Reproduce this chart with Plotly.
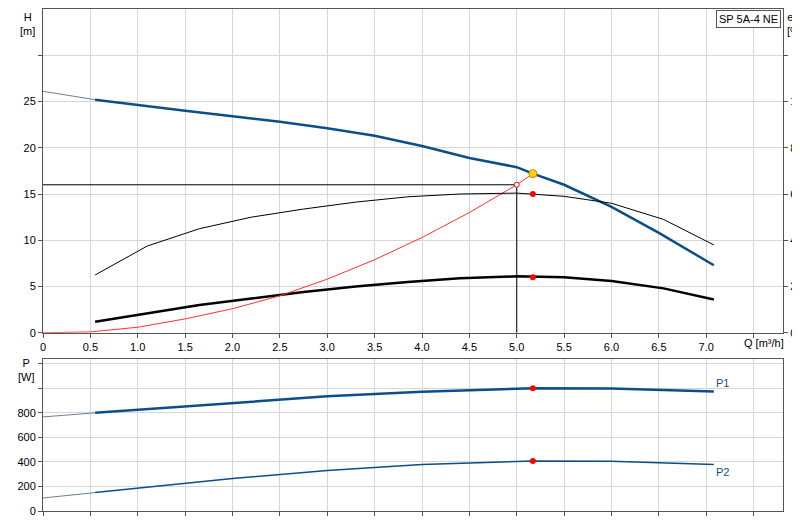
import plotly.graph_objects as go
from plotly.subplots import make_subplots

# pump curve data
q_ext = [0, 0.55]
h_ext = [26.1, 25.2]
q = [0.55, 1.0, 1.5, 2.0, 2.5, 3.0, 3.5, 4.0, 4.5, 5.0, 5.17, 5.5, 6.0, 6.5, 7.08]
h = [25.2, 24.6, 24.0, 23.4, 22.8, 22.1, 21.3, 20.2, 18.9, 17.9, 17.2, 16.0, 13.6, 10.8, 7.3]

q_eta = [0.55, 1.1, 1.65, 2.2, 2.75, 3.3, 3.85, 4.4, 5.0, 5.5, 6.0, 6.55, 7.08]
eta = [25, 37.5, 45, 50, 53.5, 56.5, 58.8, 60, 60.4, 59, 56, 49, 38]
npsh = [1.2, 2.1, 3.0, 3.7, 4.4, 5.0, 5.5, 5.9, 6.1, 6.0, 5.6, 4.8, 3.6]

q_sys = [0, 0.5, 1.0, 1.5, 2.0, 2.5, 3.0, 3.5, 4.0, 4.5, 5.0, 5.17]
h_sys = [0, 0.1, 0.6, 1.5, 2.6, 4.0, 5.8, 7.9, 10.3, 13.0, 16.0, 17.2]

q_p = [0.55, 1.0, 2.0, 3.0, 4.0, 5.17, 6.0, 7.08]
p1 = [800, 825, 885, 935, 972, 1000, 998, 975]
p2 = [150, 185, 265, 330, 380, 408, 405, 380]
p1_ext = [767, 800]
p2_ext = [106, 150]

duty_q, duty_h, duty_eta, duty_npsh = 5.17, 17.2, 60, 6.0
req_q, req_h = 5.0, 16.0

blue = "#0b4f8a"
grid = "#d6d6d6"

fig = make_subplots(rows=2, cols=1, specs=[[{"secondary_y": True}], [{}]])

fig.add_trace(go.Scatter(x=q_ext, y=h_ext, mode="lines", line=dict(color="#6a7f9a", width=1)), row=1, col=1)
fig.add_trace(go.Scatter(x=q, y=h, mode="lines", line=dict(color=blue, width=2.5)), row=1, col=1)
fig.add_trace(go.Scatter(x=q_eta, y=eta, mode="lines", line=dict(color="black", width=1)),
              row=1, col=1, secondary_y=True)
fig.add_trace(go.Scatter(x=q_eta, y=npsh, mode="lines", line=dict(color="black", width=2.5)), row=1, col=1)
fig.add_trace(go.Scatter(x=q_sys, y=h_sys, mode="lines", line=dict(color="#ff3030", width=1)), row=1, col=1)
fig.add_trace(go.Scatter(x=[0, req_q, req_q], y=[req_h, req_h, 0], mode="lines",
                         line=dict(color="black", width=1)), row=1, col=1)
fig.add_trace(go.Scatter(x=[req_q], y=[req_h], mode="markers",
                         marker=dict(color="white", size=5, line=dict(color="red", width=1))), row=1, col=1)
fig.add_trace(go.Scatter(x=[duty_q], y=[duty_h], mode="markers",
                         marker=dict(color="#ffd700", size=8, line=dict(color="#d08000", width=1))), row=1, col=1)
fig.add_trace(go.Scatter(x=[duty_q], y=[duty_eta], mode="markers", marker=dict(color="red", size=6)),
              row=1, col=1, secondary_y=True)
fig.add_trace(go.Scatter(x=[duty_q], y=[duty_npsh], mode="markers", marker=dict(color="red", size=6)), row=1, col=1)

fig.add_trace(go.Scatter(x=q_ext, y=p1_ext, mode="lines", line=dict(color="#6a7f9a", width=1)), row=2, col=1)
fig.add_trace(go.Scatter(x=q_ext, y=p2_ext, mode="lines", line=dict(color="#6a7f9a", width=1)), row=2, col=1)
fig.add_trace(go.Scatter(x=q_p, y=p1, mode="lines", line=dict(color=blue, width=2.5)), row=2, col=1)
fig.add_trace(go.Scatter(x=q_p, y=p2, mode="lines", line=dict(color=blue, width=1.5)), row=2, col=1)
fig.add_trace(go.Scatter(x=[duty_q, duty_q], y=[1000, 408], mode="markers", marker=dict(color="red", size=6)),
              row=2, col=1)

ax = dict(showline=True, linecolor="#555", linewidth=1, gridcolor=grid, zeroline=False, automargin=False,
          ticks="outside", ticklen=4, tickcolor="#555", tickfont=dict(size=11, color="black"))
qvals = [i * 0.5 for i in range(16)]
qtext = [f"{v:.1f}" if v else "0" for v in qvals[:-1]] + [""]
fig.update_xaxes(ax, range=[0, 7.81], tickvals=qvals, ticktext=qtext, mirror=True, domain=[0, 1])
fig.update_xaxes(showticklabels=False, row=2, col=1)
fig.update_layout(
    yaxis=dict(ax, domain=[0.355, 1], range=[0, 35], tickvals=[0, 5, 10, 15, 20, 25, 30],
               ticktext=["0", "5", "10", "15", "20", "25", ""]),
    yaxis2=dict(ax, range=[0, 140], tickvals=[0, 20, 40, 60, 80, 100, 120],
                ticktext=["0", "20", "40", "60", "80", "100", ""], showgrid=False),
    yaxis3=dict(ax, domain=[0, 0.303], range=[0, 1240], tickvals=[0, 200, 400, 600, 800, 1000, 1200],
                ticktext=["0", "200", "400", "600", "800", "", ""], mirror=True),
    width=800, height=520, margin=dict(l=35, r=25, t=1, b=17),
    plot_bgcolor="white", paper_bgcolor="white", showlegend=False,
    font=dict(family="Liberation Sans, Arial", size=11, color="black"),
)

fig.add_annotation(x=0, y=1.0, xref="paper", yref="paper", text="H<br>[m]", showarrow=False,
                   xanchor="right", yanchor="top", xshift=-6, align="center")
fig.add_annotation(x=1.0, y=1.0, xref="paper", yref="paper", text="eta<br>[%]", showarrow=False,
                   xanchor="left", yanchor="top", xshift=2, align="center")
fig.add_annotation(x=0, y=0.303, xref="paper", yref="paper", text="P<br>[W]", showarrow=False,
                   xanchor="right", yanchor="top", xshift=-6, yshift=4, align="center")
fig.add_annotation(x=7.5, y=0, xref="x", yref="y", text="Q [m³/h]", showarrow=False,
                   xanchor="center", yanchor="top", yshift=-2, xshift=10)
fig.add_annotation(x=1.0, y=1.0, xref="paper", yref="paper", text="SP 5A-4 NE", showarrow=False,
                   xanchor="right", yanchor="top", xshift=-2, yshift=-1, bordercolor="#555",
                   borderwidth=1, bgcolor="white", borderpad=2)
fig.add_annotation(x=7.08, y=975, xref="x2", yref="y3", text="P1", showarrow=False,
                   xanchor="left", yanchor="bottom", font=dict(color=blue))
fig.add_annotation(x=7.08, y=380, xref="x2", yref="y3", text="P2", showarrow=False,
                   xanchor="left", yanchor="top", font=dict(color=blue))

fig.write_html("out.html")
